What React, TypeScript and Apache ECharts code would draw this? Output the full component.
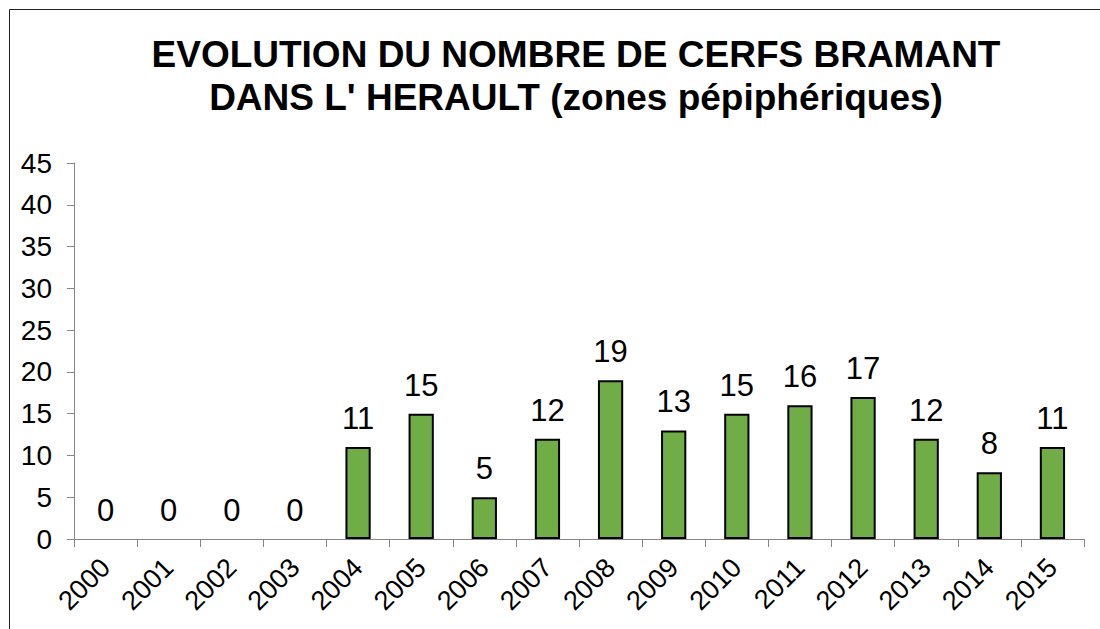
import React, { useEffect, useRef } from "react";
import * as echarts from "echarts";

const years = ["2000","2001","2002","2003","2004","2005","2006","2007","2008","2009","2010","2011","2012","2013","2014","2015"];
const counts = [0,0,0,0,11,15,5,12,19,13,15,16,17,12,8,11];
const titleLines = ["EVOLUTION DU NOMBRE DE CERFS BRAMANT", "DANS L' HERAULT (zones pépiphériques)"];

const FONT = "'Liberation Sans', Arial, sans-serif";

export default function App() {
  const ref = useRef<HTMLDivElement>(null);
  useEffect(() => {
    const chart = echarts.init(ref.current!, null, { renderer: "svg" });
    chart.setOption({
      animation: false,
      backgroundColor: "#ffffff",
      title: {
        text: titleLines.join("\n"),
        left: 571,
        top: 28,
        textAlign: "center",
        textStyle: { fontFamily: FONT, fontSize: 37, fontWeight: "bold", color: "#000", lineHeight: 43 },
      },
      graphic: [
        { type: "rect", shape: { x: 9.5, y: 9.5, width: 1300, height: 1000 }, style: { fill: "none", stroke: "#222", lineWidth: 1 }, silent: true },
      ],
      grid: { left: 74, top: 163, right: 16, bottom: 90, containLabel: false },
      xAxis: {
        type: "category",
        data: years,
        axisLine: { lineStyle: { color: "#868686", width: 1 } },
        axisTick: { show: true, length: 8, alignWithLabel: false, lineStyle: { color: "#868686" } },
        axisLabel: { rotate: 45, fontFamily: FONT, fontSize: 27, color: "#000", margin: 24, interval: 0 },
      },
      yAxis: {
        type: "value",
        min: 0,
        max: 45,
        interval: 5,
        splitLine: { show: false },
        axisLine: { show: true, lineStyle: { color: "#868686", width: 1 } },
        axisTick: { show: true, length: 7, lineStyle: { color: "#868686" } },
        axisLabel: { fontFamily: FONT, fontSize: 28, color: "#000", margin: 22 },
      },
      series: [
        {
          type: "bar",
          data: counts.map((v) => ({ value: v, itemStyle: v === 0 ? { borderWidth: 0 } : {} })),
          barWidth: "40%",
          itemStyle: { color: "#70AD47", borderColor: "#000", borderWidth: 2 },
          label: { show: true, position: "top", distance: 13, fontFamily: FONT, fontSize: 31, color: "#000" },
        },
      ],
    });
    return () => chart.dispose();
  }, []);
  return <div ref={ref} style={{ position: "fixed", left: 0, top: 0, width: 1100, height: 629 }} />;
}
